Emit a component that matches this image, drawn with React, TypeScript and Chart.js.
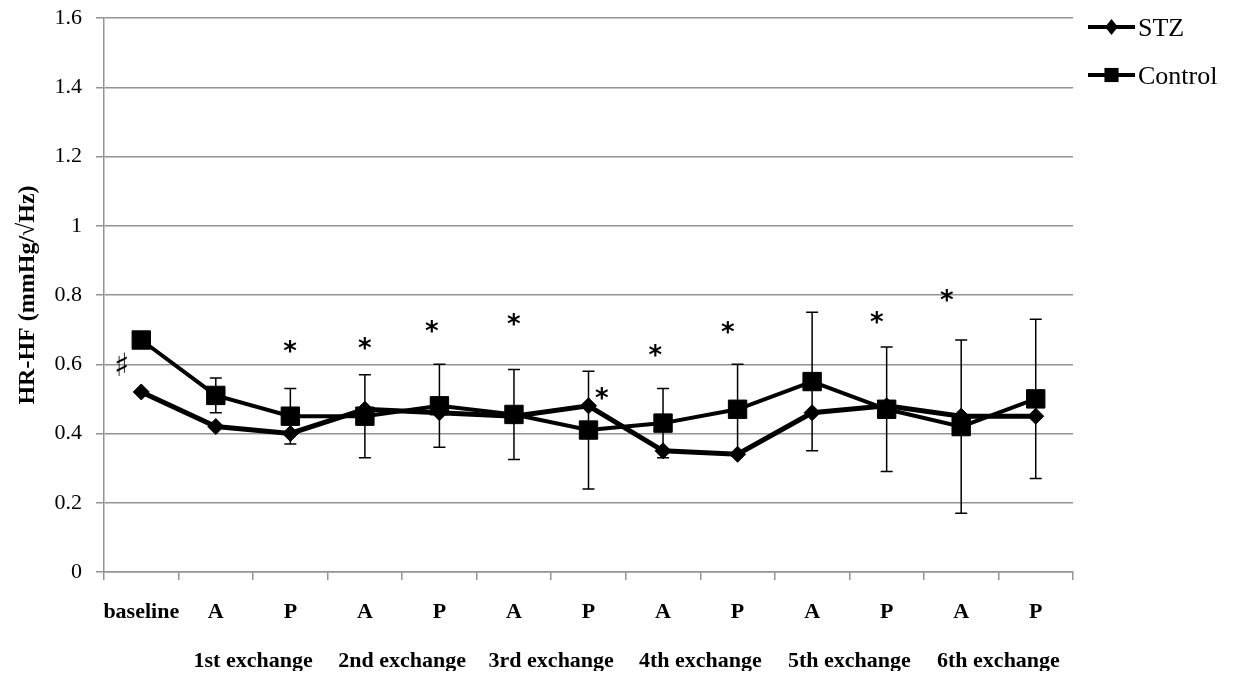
import { useEffect, useRef } from 'react';
import { Chart, registerables } from 'chart.js';

Chart.register(...registerables);

// ---- data ----
const categories = ['baseline', 'A', 'P', 'A', 'P', 'A', 'P', 'A', 'P', 'A', 'P', 'A', 'P'];
const stzValues = [0.52, 0.42, 0.40, 0.47, 0.46, 0.45, 0.48, 0.35, 0.34, 0.46, 0.48, 0.45, 0.45];
const controlValues = [0.67, 0.51, 0.45, 0.45, 0.48, 0.455, 0.41, 0.43, 0.47, 0.55, 0.47, 0.42, 0.50];
const controlErrors = [0, 0.05, 0.08, 0.12, 0.12, 0.13, 0.17, 0.10, 0.13, 0.20, 0.18, 0.25, 0.23];
const groupLabels = ['1st exchange', '2nd exchange', '3rd exchange', '4th exchange', '5th exchange', '6th exchange'];
const groupPositions = [1.5, 3.5, 5.5, 7.5, 9.5, 11.5];
const yTicks = [0, 0.2, 0.4, 0.6, 0.8, 1.0, 1.2, 1.4, 1.6];
const sigIndex = [2, 3, 3.9, 5, 6.18, 6.9, 7.87, 9.87, 10.81];
const sigValue = [0.65, 0.66, 0.71, 0.73, 0.515, 0.64, 0.705, 0.735, 0.8];
const sharpIndex = -0.27;
const sharpValue = 0.6;

const SERIF = "'Liberation Serif', 'Times New Roman', serif";
const GRID = '#939393';

function drawCentered(ctx: CanvasRenderingContext2D, text: string, cx: number, cy: number) {
  ctx.textAlign = 'left';
  ctx.textBaseline = 'alphabetic';
  const m = ctx.measureText(text);
  const w = m.actualBoundingBoxRight + m.actualBoundingBoxLeft;
  const x = cx - w / 2 + m.actualBoundingBoxLeft;
  const y = cy + (m.actualBoundingBoxAscent - m.actualBoundingBoxDescent) / 2;
  ctx.fillText(text, x, y);
}

function drawMarker(ctx: CanvasRenderingContext2D, style: string, x: number, y: number, r: number) {
  ctx.beginPath();
  if (style === 'rect') {
    const s = r * Math.SQRT1_2;
    ctx.rect(x - s, y - s, 2 * s, 2 * s);
  } else {
    ctx.moveTo(x - r * 0.8, y);
    ctx.lineTo(x, y - r);
    ctx.lineTo(x + r * 0.8, y);
    ctx.lineTo(x, y + r);
    ctx.closePath();
  }
  ctx.fill();
}

const annotationPlugin = {
  id: 'annotationPlugin',
  beforeDatasetsDraw(chart: any) {
    const ctx = chart.ctx as CanvasRenderingContext2D;
    const xs = chart.scales.x;
    const ys = chart.scales.y;
    ctx.save();
    ctx.strokeStyle = '#000';
    ctx.lineWidth = 1.5;
    controlValues.forEach((v, i) => {
      const e = controlErrors[i];
      if (!e) return;
      const x = xs.getPixelForValue(i);
      const yt = ys.getPixelForValue(v + e);
      const yb = ys.getPixelForValue(v - e);
      ctx.beginPath();
      ctx.moveTo(x, yt);
      ctx.lineTo(x, yb);
      ctx.moveTo(x - 6, yt);
      ctx.lineTo(x + 6, yt);
      ctx.moveTo(x - 6, yb);
      ctx.lineTo(x + 6, yb);
      ctx.stroke();
    });
    ctx.restore();
  },
  afterDatasetsDraw(chart: any) {
    const ctx = chart.ctx as CanvasRenderingContext2D;
    const xg = chart.scales.xg;
    const ys = chart.scales.y;
    ctx.save();
    ctx.fillStyle = '#000';
    ctx.font = `bold 26px 'DejaVu Sans', sans-serif`;
    sigIndex.forEach((idx, k) => {
      drawCentered(ctx, '*', xg.getPixelForValue(idx), ys.getPixelForValue(sigValue[k]));
    });
    ctx.font = `32px 'DejaVu Sans', sans-serif`;
    drawCentered(ctx, '\u266F', xg.getPixelForValue(sharpIndex), ys.getPixelForValue(sharpValue));
    ctx.restore();
  },
  afterDraw(chart: any) {
    const ctx = chart.ctx as CanvasRenderingContext2D;
    const area = chart.chartArea;
    const ys = chart.scales.y;
    ctx.save();
    const x0 = area.right + 15;
    const x1 = x0 + 47;
    const yTop = ys.getPixelForValue(yTicks[yTicks.length - 1]);
    chart.data.datasets.forEach((ds: any, i: number) => {
      const y = yTop + 9 + 48 * i;
      ctx.strokeStyle = '#000';
      ctx.fillStyle = '#000';
      ctx.lineWidth = 4;
      ctx.beginPath();
      ctx.moveTo(x0, y);
      ctx.lineTo(x1, y);
      ctx.stroke();
      drawMarker(ctx, ds.pointStyle, (x0 + x1) / 2, y, ds.pointStyle === 'rect' ? 10 : 8);
      ctx.font = `26px ${SERIF}`;
      ctx.textAlign = 'left';
      ctx.textBaseline = 'alphabetic';
      const m = ctx.measureText(ds.label);
      ctx.fillText(ds.label, x1 + 3, y + (m.actualBoundingBoxAscent - m.actualBoundingBoxDescent) / 2);
    });
    ctx.restore();
  },
};

export default function App() {
  const canvasRef = useRef<HTMLCanvasElement | null>(null);

  useEffect(() => {
    if (!canvasRef.current) return;
    const chart = new Chart(canvasRef.current, {
      type: 'line',
      data: {
        labels: categories,
        datasets: [
          {
            label: 'STZ',
            data: stzValues,
            borderColor: '#000',
            backgroundColor: '#000',
            borderWidth: 5,
            pointStyle: 'rectRot',
            pointRadius: 8,
            pointBorderWidth: 1,
            pointBackgroundColor: '#000',
            pointBorderColor: '#000',
            tension: 0,
            order: 1,
          },
          {
            label: 'Control',
            data: controlValues,
            borderColor: '#000',
            backgroundColor: '#000',
            borderWidth: 4,
            pointStyle: 'rect',
            pointRadius: 13,
            pointBorderWidth: 1,
            pointBackgroundColor: '#000',
            pointBorderColor: '#000',
            tension: 0,
            order: 0,
          },
        ],
      },
      options: {
        animation: false,
        responsive: true,
        maintainAspectRatio: false,
        layout: { padding: { top: 18, right: 160, bottom: 6, left: 0 } },
        plugins: {
          legend: { display: false },
          tooltip: { enabled: false },
        },
        scales: {
          x: {
            type: 'category',
            offset: true,
            weight: 0,
            afterFit: (scale: any) => {
              scale.height = 51;
            },
            grid: {
              offset: true,
              drawOnChartArea: false,
              drawTicks: true,
              tickLength: 8,
              color: GRID,
              lineWidth: 1.5,
            },
            border: { display: true, color: GRID, width: 1.5 },
            ticks: {
              autoSkip: false,
              maxRotation: 0,
              minRotation: 0,
              padding: 21,
              color: '#000',
              font: { family: SERIF, size: 22, weight: 'bold', lineHeight: 1 },
            },
          },
          xg: {
            type: 'linear',
            position: 'bottom',
            min: -0.5,
            max: 12.5,
            weight: 1,
            afterBuildTicks: (scale: any) => {
              scale.ticks = groupPositions.map((v) => ({ value: v }));
            },
            afterFit: (scale: any) => {
              scale.height = 48;
            },
            grid: { display: false, drawTicks: false },
            border: { display: false },
            ticks: {
              autoSkip: false,
              maxRotation: 0,
              minRotation: 0,
              padding: 27,
              color: '#000',
              font: { family: SERIF, size: 22, weight: 'bold', lineHeight: 1 },
              callback: (value: any) => {
                const i = groupPositions.indexOf(Number(value));
                return i >= 0 ? groupLabels[i] : '';
              },
            },
          },
          y: {
            min: 0,
            max: 1.6,
            afterBuildTicks: (scale: any) => {
              scale.ticks = yTicks.map((v) => ({ value: v }));
            },
            afterFit: (scale: any) => {
              scale.width = 104;
              scale.paddingTop = 0;
              scale.paddingBottom = 0;
            },
            grid: {
              color: GRID,
              lineWidth: 1.5,
              drawTicks: true,
              tickLength: 8,
            },
            border: { display: true, color: GRID, width: 1.5 },
            ticks: {
              padding: 14,
              color: '#000',
              font: { family: SERIF, size: 22, lineHeight: 1 },
              callback: (value: any) => String(Number(Number(value).toFixed(1))),
            },
            title: {
              display: true,
              text: 'HR-HF (mmHg/\u221AHz)',
              color: '#000',
              font: { family: SERIF, size: 24, weight: 'bold', lineHeight: 1.2 },
              padding: { top: 13, bottom: 0 },
            },
          },
        },
      },
      plugins: [annotationPlugin],
    });
    return () => chart.destroy();
  }, []);

  return (
    <div style={{ position: 'fixed', left: 0, top: 0, width: 1233, height: 677, background: '#fff' }}>
      <canvas ref={canvasRef} />
    </div>
  );
}
